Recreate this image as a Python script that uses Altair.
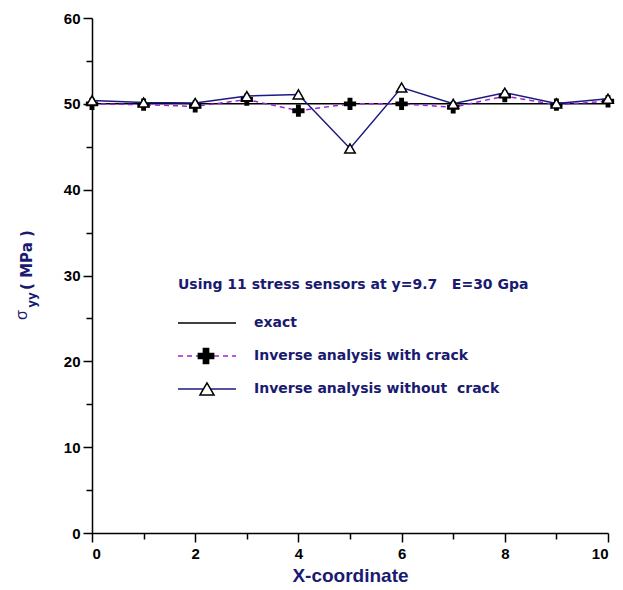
import altair as alt
import pandas as pd

# ---- data ----
x_coord = [0, 1, 2, 3, 4, 5, 6, 7, 8, 9, 10]
exact = [50, 50, 50, 50, 50, 50, 50, 50, 50, 50, 50]
with_crack = [50.0, 49.9, 49.7, 50.5, 49.2, 50.0, 50.0, 49.6, 50.9, 49.9, 50.3]
without_crack = [50.4, 50.15, 50.1, 50.9, 51.1, 44.8, 51.9, 50.0, 51.3, 50.05, 50.6]

legend_title = "Using 11 stress sensors at y=9.7\u00a0\u00a0\u00a0E=30 Gpa"
legend_labels = ["exact", "Inverse analysis with crack", "Inverse analysis without\u00a0\u00a0crack"]

NAVY = "#1a1a70"
LINE_BLUE = "#1a1a80"
PURPLE = "#a020e0"
FONT = "Liberation Sans"
LFONT = "DejaVu Sans"

df = pd.DataFrame({
    "x": x_coord,
    "exact": exact,
    "with_crack": with_crack,
    "without_crack": without_crack,
})

W, H = 516, 515

x_axis = alt.Axis(
    values=list(range(0, 11)),
    labelExpr="datum.value % 2 === 0 ? datum.label : ''",
    tickSize={"condition": {"test": "datum.value % 2 === 0", "value": 9}, "value": 6},
    title="X-coordinate",
    titleFontSize=19,
    titleFont=FONT,
    titleFontWeight="bold",
    titleColor=NAVY,
    titlePadding=5,
    labelPadding=4,
    grid=False,
)
y_axis = alt.Axis(
    values=list(range(0, 61, 5)),
    labelExpr="datum.value % 10 === 0 ? datum.label : ''",
    tickSize={"condition": {"test": "datum.value % 10 === 0", "value": 9}, "value": 6},
    title=None,
    labelPadding=3,
    grid=False,
)

xs = alt.Scale(domain=[0, 10], nice=False, zero=False)
ys = alt.Scale(domain=[0, 60], nice=False)

base = alt.Chart(df)

exact_line = base.mark_line(color="black", strokeWidth=1.5).encode(
    x=alt.X("x:Q", scale=xs, axis=x_axis),
    y=alt.Y("exact:Q", scale=ys, axis=y_axis),
)
crack_line = base.mark_line(color=PURPLE, strokeWidth=1.5, strokeDash=[5, 4]).encode(
    x=alt.X("x:Q", scale=xs), y=alt.Y("with_crack:Q", scale=ys)
)
crack_pts = base.mark_point(shape="cross", filled=True, color="black", size=150, opacity=1).encode(
    x=alt.X("x:Q", scale=xs), y=alt.Y("with_crack:Q", scale=ys)
)
nocrack_line = base.mark_line(color=LINE_BLUE, strokeWidth=1.5).encode(
    x=alt.X("x:Q", scale=xs), y=alt.Y("without_crack:Q", scale=ys)
)
nocrack_pts = base.mark_point(
    shape="triangle-up", filled=True, fill="white", stroke="black", strokeWidth=1.5, size=110, opacity=1
).encode(x=alt.X("x:Q", scale=xs), y=alt.Y("without_crack:Q", scale=ys))

# ---- legend (drawn inside the plot area) ----
one = alt.Chart(pd.DataFrame({"k": [0]}))

leg_title = one.mark_text(
    text=legend_title, align="left", baseline="middle", font=LFONT, fontSize=14,
    fontWeight="bold", color=NAVY
).encode(x=alt.value(86), y=alt.value(267))

leg_rows_y = [305, 338, 371]
leg_texts = alt.Chart(pd.DataFrame({"label": legend_labels, "py": leg_rows_y})).mark_text(
    align="left", baseline="middle", font=LFONT, fontSize=14, fontWeight="bold", color=NAVY
).encode(text="label:N", x=alt.value(162), y=alt.Y("py:Q", scale=None))

leg_exact = one.mark_rule(color="black", strokeWidth=1.5).encode(
    x=alt.value(86), x2=alt.value(144), y=alt.value(leg_rows_y[0])
)
leg_crack = one.mark_rule(color=PURPLE, strokeWidth=1.5, strokeDash=[5, 4]).encode(
    x=alt.value(86), x2=alt.value(144), y=alt.value(leg_rows_y[1])
)
leg_cross = one.mark_point(shape="cross", filled=True, color="black", size=280, opacity=1).encode(
    x=alt.value(114), y=alt.value(leg_rows_y[1])
)
leg_nocrack = one.mark_rule(color=LINE_BLUE, strokeWidth=1.5).encode(
    x=alt.value(86), x2=alt.value(144), y=alt.value(leg_rows_y[2])
)
leg_tri = one.mark_point(
    shape="triangle-up", filled=True, fill="white", stroke="black", strokeWidth=1.5, size=200, opacity=1
).encode(x=alt.value(115), y=alt.value(leg_rows_y[2]))

# ---- y-axis title with subscript ----
ytitle_sigma = one.mark_text(
    text="σ", angle=270, align="center", baseline="middle", font=FONT, fontSize=16,
    color=NAVY
).encode(x=alt.value(22 - 92), y=alt.value(315 - 18))
ytitle_sub = one.mark_text(
    text="yy", angle=270, align="center", baseline="middle", font=LFONT, fontSize=12,
    fontWeight="bold", color=NAVY
).encode(x=alt.value(32 - 92), y=alt.value(300 - 18))
ytitle_unit = one.mark_text(
    text="(\u00a0MPa\u00a0)", angle=270, align="center", baseline="middle", font=LFONT, fontSize=15,
    fontWeight="bold", color=NAVY
).encode(x=alt.value(27 - 92), y=alt.value(260 - 18))

chart = alt.layer(
    exact_line, crack_line, crack_pts, nocrack_line, nocrack_pts,
    leg_title, leg_texts, leg_exact, leg_crack, leg_cross, leg_nocrack, leg_tri,
    ytitle_sigma, ytitle_sub, ytitle_unit,
).properties(
    width=W, height=H,
    autosize=alt.AutoSizeParams(type="none"),
    padding={"left": 92, "top": 18, "right": 15, "bottom": 57},
    background="white",
).configure_view(
    stroke=None
).configure_axis(
    domainColor="black", domainWidth=1.5, tickColor="black", tickWidth=1.5,
    labelFont=FONT, labelFontSize=15, labelFontWeight="bold", labelColor="black",
)

chart.save("out.html", embed_options={"renderer": "svg", "actions": False})
